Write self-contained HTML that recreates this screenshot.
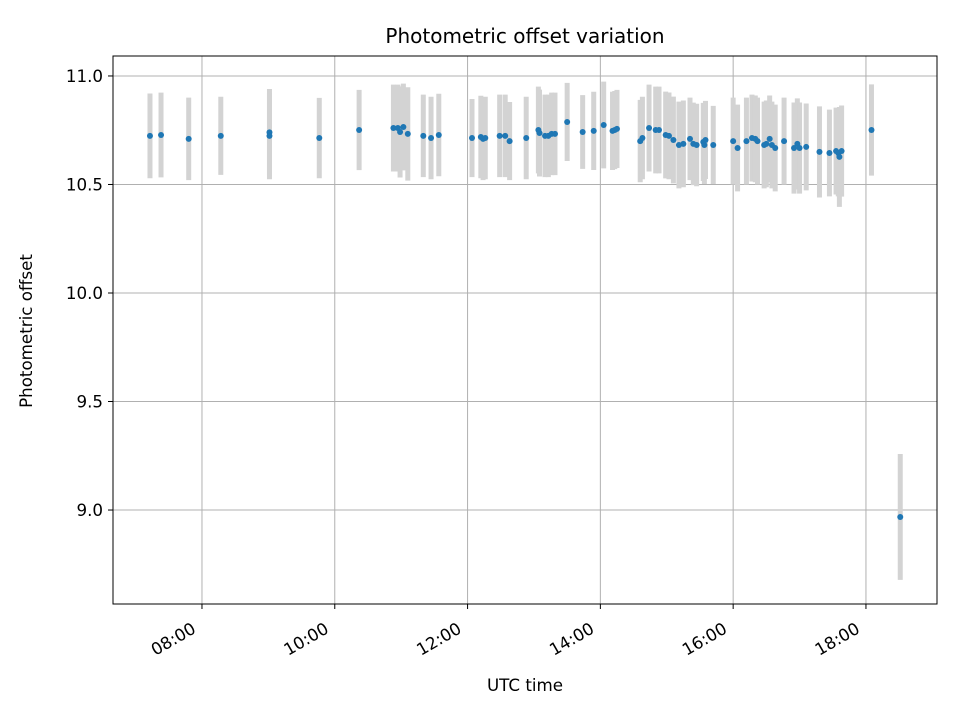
<!DOCTYPE html>
<html><head><meta charset="utf-8"><style>
body{margin:0;background:#fff}
svg text{font-family:"DejaVu Sans","Liberation Sans",sans-serif;fill:#000}
</style></head><body>
<svg id="chart" width="960" height="720">
<rect width="960" height="720" fill="#fff"/>
<g id="grid"></g><g id="marks"></g><g id="axes"></g>
</svg>
<script>
const times=["07:13","07:23","07:48","08:17","09:01","09:01","09:46","10:22","10:53","10:57","10:59","11:02","11:06","11:20","11:27","11:34","12:04","12:12","12:14","12:16","12:29","12:34","12:38","12:53","13:04","13:05","13:10","13:13","13:16","13:19","13:30","13:44","13:54","14:03","14:11","14:13","14:15","14:36","14:38","14:44","14:50","14:53","14:59","15:02","15:06","15:11","15:15","15:21","15:24","15:27","15:33","15:34","15:35","15:42","16:00","16:04","16:12","16:17","16:20","16:22","16:28","16:30","16:33","16:35","16:38","16:46","16:55","16:58","17:00","17:06","17:18","17:27","17:33","17:35","17:36","17:38","18:05","18:31"];
const offsets=[10.724,10.728,10.71,10.724,10.74,10.724,10.714,10.751,10.76,10.76,10.742,10.765,10.733,10.724,10.714,10.728,10.714,10.719,10.71,10.714,10.724,10.724,10.70,10.714,10.751,10.737,10.724,10.724,10.733,10.733,10.788,10.742,10.747,10.774,10.747,10.751,10.756,10.70,10.714,10.76,10.751,10.751,10.728,10.724,10.705,10.682,10.687,10.71,10.687,10.682,10.696,10.682,10.705,10.682,10.70,10.668,10.70,10.714,10.71,10.70,10.682,10.687,10.71,10.682,10.668,10.70,10.668,10.687,10.668,10.673,10.65,10.645,10.654,10.645,10.627,10.654,10.751,8.968];
const errors=[0.195,0.195,0.19,0.18,0.2,0.2,0.185,0.185,0.2,0.2,0.21,0.2,0.215,0.19,0.19,0.19,0.18,0.19,0.19,0.19,0.19,0.19,0.18,0.19,0.2,0.2,0.19,0.19,0.19,0.19,0.18,0.17,0.18,0.2,0.18,0.18,0.18,0.19,0.19,0.2,0.2,0.2,0.2,0.2,0.2,0.2,0.2,0.19,0.19,0.19,0.18,0.18,0.18,0.18,0.2,0.2,0.2,0.2,0.2,0.2,0.2,0.2,0.2,0.2,0.2,0.2,0.21,0.21,0.21,0.2,0.21,0.2,0.2,0.2,0.23,0.21,0.21,0.29];
const xTicks=["08:00","10:00","12:00","14:00","16:00","18:00"];
const yTicks=[9.0,9.5,10.0,10.5,11.0];
const L=113,R=937,T=56,B=604, X0=6.66,X1=19.07, Y0=8.567,Y1=11.092;
const hrs=s=>{const [h,m]=s.split(":").map(Number);return h+m/60;};
const sx=h=>L+(h-X0)/(X1-X0)*(R-L);
const sy=v=>B-(v-Y0)/(Y1-Y0)*(B-T);
const NS="http://www.w3.org/2000/svg";
function mk(p,tag,a){const e=document.createElementNS(NS,tag);for(const k in a)e.setAttribute(k,a[k]);p.appendChild(e);return e;}
const grid=document.getElementById('grid'),marks=document.getElementById('marks'),axes=document.getElementById('axes');
xTicks.forEach(t=>{const x=sx(hrs(t));
 const g=mk(grid,'line',{x1:x,x2:x,y1:T,y2:B,stroke:'#b0b0b0','stroke-width':1});
 
 
 mk(axes,'line',{x1:x,x2:x,y1:B,y2:B+5,stroke:'#000','stroke-width':1});
 const ex=x-5, ey=632;
 const tx=mk(axes,'text',{x:ex,y:ey,'text-anchor':'end','font-size':16.7,transform:`rotate(-30 ${ex} ${ey})`});
 tx.textContent=t;
 
 
});
yTicks.forEach(v=>{const y=sy(v);
 const g=mk(grid,'line',{x1:L,x2:R,y1:y,y2:y,stroke:'#b0b0b0','stroke-width':1});
 
 
 mk(axes,'line',{x1:L-5,x2:L,y1:y,y2:y,stroke:'#000','stroke-width':1});
 const tx=mk(axes,'text',{x:L-10,y:y+6,'text-anchor':'end','font-size':16.7});
 tx.textContent=v.toFixed(1);
 
 
});
times.forEach((t,i)=>{const x=sx(hrs(t));
 const e=mk(marks,'line',{x1:x,x2:x,y1:sy(offsets[i]+errors[i]),y2:sy(offsets[i]-errors[i]),stroke:'#d3d3d3','stroke-width':5});
 
 
});
times.forEach((t,i)=>{
 const c=mk(marks,'circle',{cx:sx(hrs(t)),cy:sy(offsets[i]),r:3,fill:'#1f77b4'});
 
 
});
const fr=mk(axes,'rect',{x:L,y:T,width:R-L,height:B-T,fill:'none',stroke:'#000','stroke-width':1});


const ti=mk(axes,'text',{x:(L+R)/2,y:43,'text-anchor':'middle','font-size':20});ti.textContent='Photometric offset variation';


const xl=mk(axes,'text',{x:(L+R)/2,y:691,'text-anchor':'middle','font-size':16.7});xl.textContent='UTC time';


const yl=mk(axes,'text',{x:32,y:331,'text-anchor':'middle','font-size':16.7,transform:'rotate(-90 32 331)'});yl.textContent='Photometric offset';


</script>
</body></html>
